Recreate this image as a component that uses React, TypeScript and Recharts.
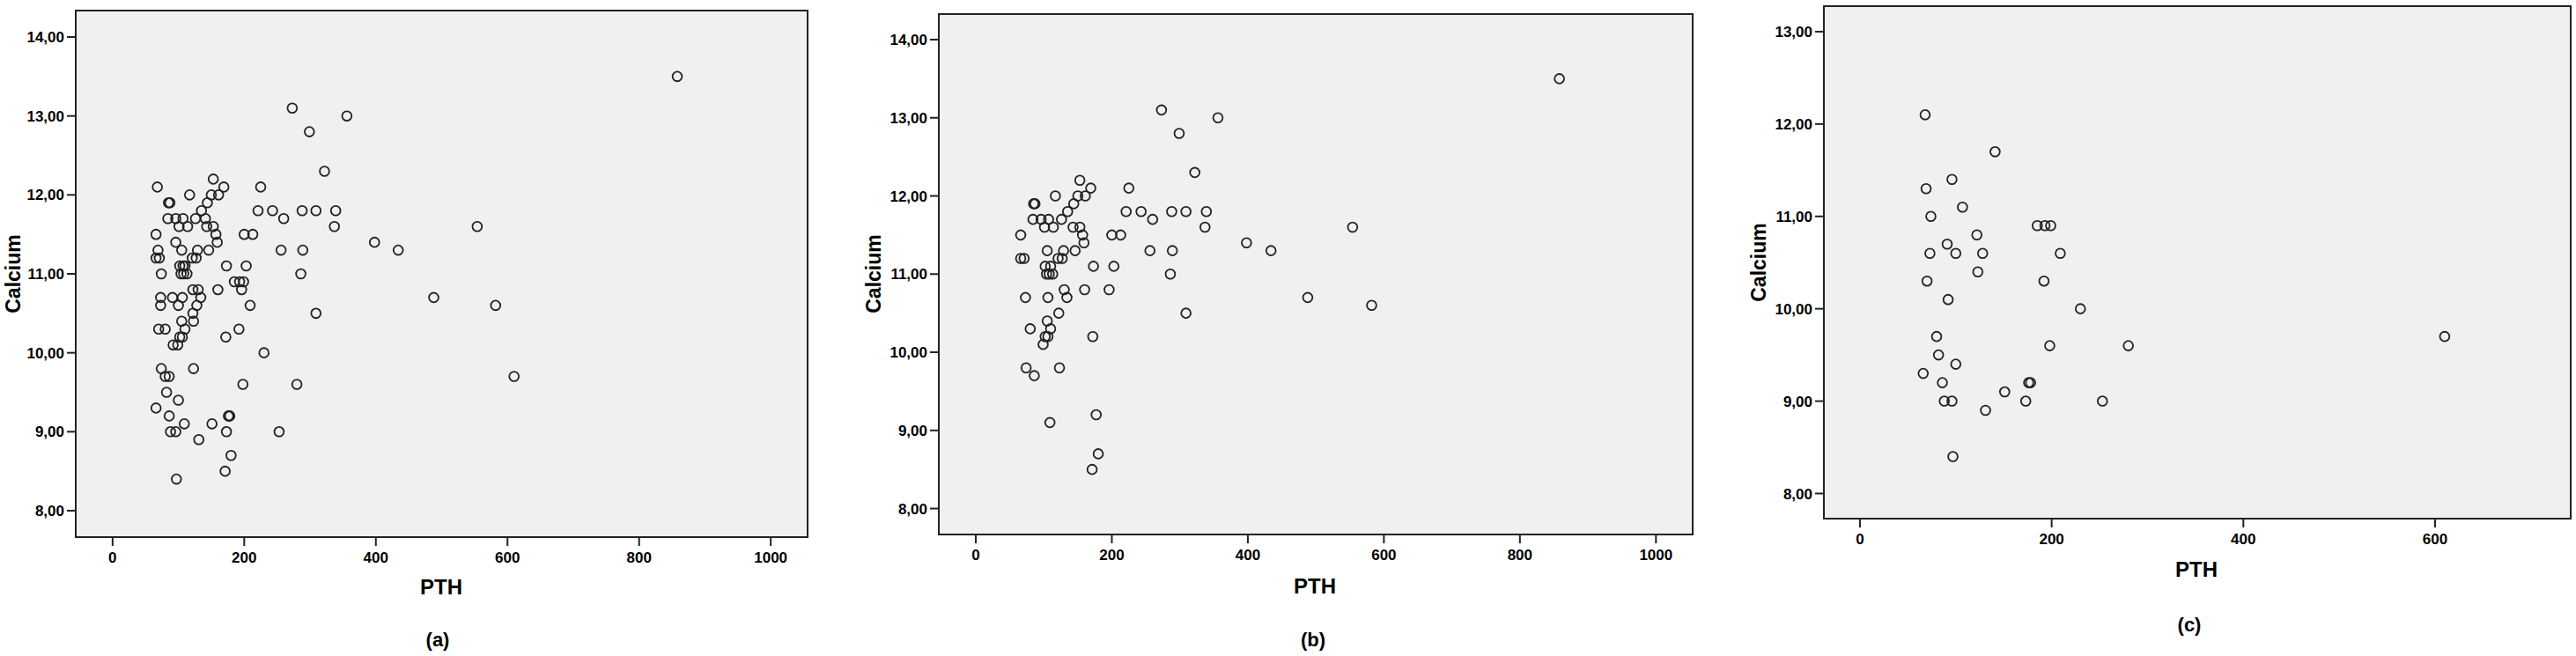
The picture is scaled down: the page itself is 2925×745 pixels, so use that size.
import { ScatterChart, Scatter, XAxis, YAxis, CartesianGrid, ReferenceArea } from 'recharts';

const font = '"Liberation Sans", Arial, sans-serif';

// [PTH, Calcium]
const groupB: [number, number][] = [
  [858, 13.5], [273, 13.1], [356, 13.0], [299, 12.8], [322, 12.3],
  [153, 12.2], [169, 12.1], [225, 12.1],
  [117, 12.0], [150, 12.0], [161, 12.0],
  [85, 11.9], [87, 11.9], [144, 11.9],
  [135, 11.8], [221, 11.8], [243, 11.8], [288, 11.8], [309, 11.8], [339, 11.8],
  [84, 11.7], [96, 11.7], [107, 11.7], [126, 11.7], [260, 11.7],
  [101, 11.6], [114, 11.6], [143, 11.6], [153, 11.6], [337, 11.6], [554, 11.6],
  [66, 11.5], [157, 11.5], [200, 11.5], [213, 11.5],
  [159, 11.4], [398, 11.4],
  [105, 11.3], [129, 11.3], [146, 11.3], [256, 11.3], [289, 11.3], [434, 11.3],
  [66, 11.2], [71, 11.2], [121, 11.2], [127, 11.2],
  [102, 11.1], [110, 11.1], [173, 11.1], [203, 11.1],
  [104, 11.0], [108, 11.0], [113, 11.0], [286, 11.0],
  [130, 10.8], [160, 10.8], [196, 10.8],
  [73, 10.7], [106, 10.7], [134, 10.7], [488, 10.7],
  [582, 10.6],
  [122, 10.5], [309, 10.5],
  [105, 10.4],
  [80, 10.3], [110, 10.3],
  [102, 10.2], [106, 10.2], [172, 10.2],
  [99, 10.1],
  [74, 9.8], [123, 9.8],
  [86, 9.7],
  [177, 9.2], [109, 9.1],
  [180, 8.7], [171, 8.5],
];

// [PTH, Calcium]
const groupC: [number, number][] = [
  [68, 12.1], [141, 11.7], [96, 11.4], [69, 11.3], [107, 11.1], [74, 11.0],
  [185, 10.9], [193, 10.9], [199, 10.9], [122, 10.8], [91, 10.7],
  [73, 10.6], [100, 10.6], [128, 10.6], [209, 10.6],
  [123, 10.4], [70, 10.3], [192, 10.3], [92, 10.1], [230, 10.0],
  [80, 9.7], [610, 9.7], [198, 9.6], [280, 9.6], [82, 9.5], [100, 9.4],
  [66, 9.3], [86, 9.2], [176, 9.2], [178, 9.2], [151, 9.1],
  [88, 9.0], [96, 9.0], [173, 9.0], [253, 9.0], [131, 8.9], [97, 8.4],
];

// panel (a) shows both groups together
const groupA = [...groupB, ...groupC];

const pthTicksWide = [0, 200, 400, 600, 800, 1000];
const pthTicksNarrow = [0, 200, 400, 600];
const calciumTicksWide = [8, 9, 10, 11, 12, 13, 14];
const calciumTicksNarrow = [8, 9, 10, 11, 12, 13];

const toPoints = (rows: [number, number][]) => rows.map(([pth, calcium]) => ({ pth, calcium }));

const Ring = (props: any) => (
  <circle cx={props.cx} cy={props.cy} r={5.4} fill="none" stroke="#222" strokeWidth={1.8} />
);

const tickStyle = { fill: '#000', fontSize: 17, fontWeight: 'bold', fontFamily: font };

interface PanelProps {
  left: number;
  width: number;
  margin: { top: number; right: number; bottom: number; left: number };
  yAxisWidth: number;
  xDomain: [number, number];
  yDomain: [number, number];
  xTicks: number[];
  yTicks: number[];
  rows: [number, number][];
  tag: string;
  pthPos: [number, number];
  tagPos: [number, number];
  calciumPos: [number, number];
}

function Panel(p: PanelProps) {
  const text = (s: string, x: number, y: number, size: number, rotate = false) => (
    <div
      style={{
        position: 'absolute',
        left: x,
        top: y,
        transform: `translate(-50%, -50%)${rotate ? ' rotate(-90deg)' : ''}`,
        fontFamily: font,
        fontWeight: 'bold',
        fontSize: size,
        lineHeight: 1,
        whiteSpace: 'nowrap',
        color: '#000',
      }}
    >
      {s}
    </div>
  );

  return (
    <>
      <div style={{ position: 'absolute', left: p.left, top: 0 }}>
        <ScatterChart width={p.width} height={745} margin={p.margin}>
          <CartesianGrid horizontal={false} vertical={false} fill="#f0f0f0" />
          <XAxis
            type="number"
            dataKey="pth"
            domain={p.xDomain}
            allowDataOverflow
            ticks={p.xTicks}
            height={30}
            axisLine={false}
            tickLine={{ stroke: '#222', strokeWidth: 2 }}
            tickSize={10}
            tickMargin={7}
            tick={tickStyle}
            interval={0}
          />
          <YAxis
            type="number"
            dataKey="calcium"
            domain={p.yDomain}
            allowDataOverflow
            ticks={p.yTicks}
            width={p.yAxisWidth}
            axisLine={false}
            tickLine={{ stroke: '#222', strokeWidth: 2 }}
            tickSize={10}
            tickMargin={3}
            tick={tickStyle}
            interval={0}
            tickFormatter={(v: number) => v.toFixed(2).replace('.', ',')}
          />
          <ReferenceArea
            x1={p.xDomain[0]}
            x2={p.xDomain[1]}
            y1={p.yDomain[0]}
            y2={p.yDomain[1]}
            fill="none"
            fillOpacity={0}
            stroke="#222"
            strokeWidth={2}
            ifOverflow="visible"
          />
          <Scatter data={toPoints(p.rows)} shape={Ring} isAnimationActive={false} />
        </ScatterChart>
      </div>
      {text('PTH', p.pthPos[0], p.pthPos[1], 24)}
      {text(p.tag, p.tagPos[0], p.tagPos[1], 22)}
      {text('Calcium', p.calciumPos[0], p.calciumPos[1], 23, true)}
    </>
  );
}

export default function App() {
  return (
    <div style={{ position: 'absolute', left: 0, top: 0, width: 2925, height: 745, background: '#fff' }}>
      <Panel
        left={0}
        width={980}
        margin={{ top: 12, right: 63, bottom: 105, left: 0 }}
        yAxisWidth={86}
        xDomain={[-56, 1056]}
        yDomain={[7.665, 14.335]}
        xTicks={pthTicksWide}
        yTicks={calciumTicksWide}
        rows={groupA}
        tag="(a)"
        pthPos={[501, 667]}
        tagPos={[497, 727]}
        calciumPos={[15, 311]}
      />
      <Panel
        left={980}
        width={980}
        margin={{ top: 16, right: 38, bottom: 108, left: 0 }}
        yAxisWidth={86}
        xDomain={[-54.4, 1054]}
        yDomain={[7.668, 14.327]}
        xTicks={pthTicksWide}
        yTicks={calciumTicksWide}
        rows={groupB}
        tag="(b)"
        pthPos={[1493, 666]}
        tagPos={[1491, 727]}
        calciumPos={[992, 311]}
      />
      <Panel
        left={1960}
        width={965}
        margin={{ top: 7, right: 6, bottom: 126, left: 0 }}
        yAxisWidth={111}
        xDomain={[-37.6, 741.5]}
        yDomain={[7.728, 13.276]}
        xTicks={pthTicksNarrow}
        yTicks={calciumTicksNarrow}
        rows={groupC}
        tag="(c)"
        pthPos={[2494, 647]}
        tagPos={[2486, 710]}
        calciumPos={[1997, 298]}
      />
    </div>
  );
}
